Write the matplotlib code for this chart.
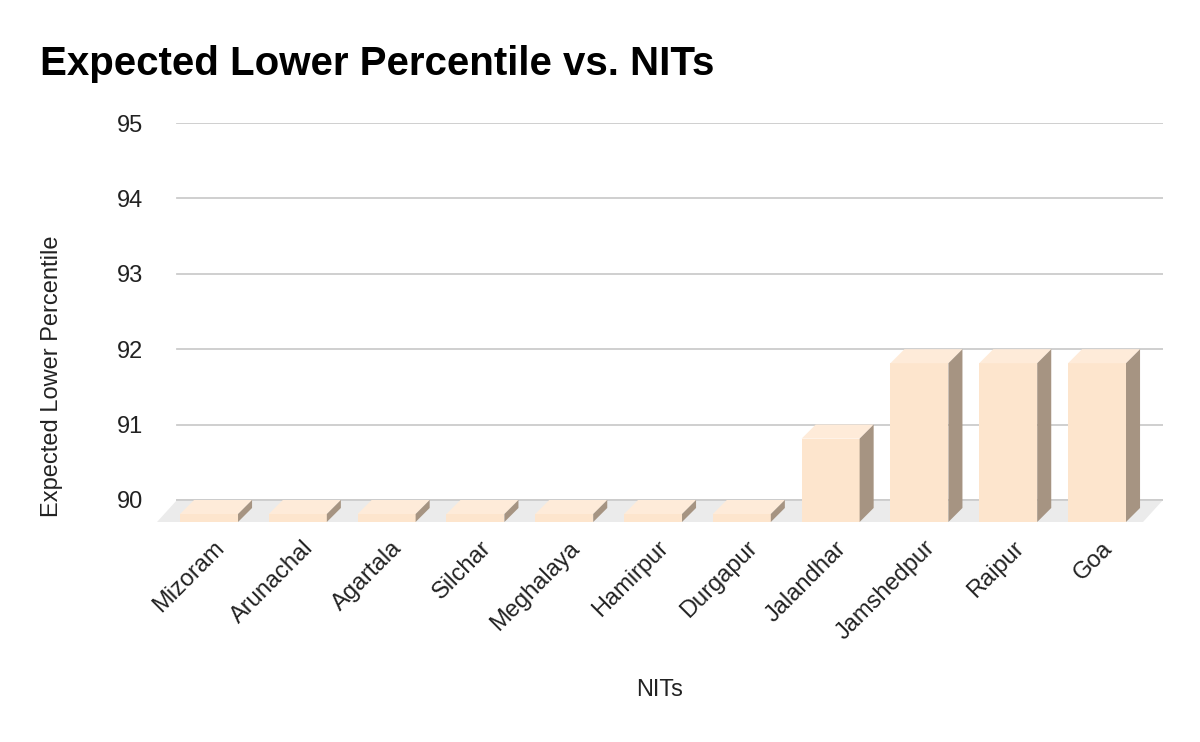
# 3D-style column chart: expected lower percentile per NIT
import matplotlib
matplotlib.use("Agg")
import matplotlib.pyplot as plt
from matplotlib.patches import Polygon

plt.rcParams['font.family'] = ['Liberation Sans', 'DejaVu Sans']

# data
nits = ['Mizoram', 'Arunachal', 'Agartala', 'Silchar', 'Meghalaya', 'Hamirpur',
        'Durgapur', 'Jalandhar', 'Jamshedpur', 'Raipur', 'Goa']
percentile = [90, 90, 90, 90, 90, 90, 90, 91, 92, 92, 92]
y_ticks = [90, 91, 92, 93, 94, 95]

# look of the fake 3d
front_col = '#fde5cd'
top_col = '#feebd9'
side_col = '#a69482'
floor_col = '#ebebeb'
grid_col = '#cccccc'

bar_w = 0.653
dx, dy = 0.158, 0.186          # bar depth
fdx, fdy = 0.225, 0.292        # floor depth
base = 90
x_lo, x_hi = -0.586, 10.743
fs = 17

fig = plt.figure(figsize=(12, 7.42), dpi=100)
ax = fig.add_axes([157 / 1200, 1 - 522 / 742, (1163 - 157) / 1200, (522 - 123) / 742])
ax.set_xlim(x_lo, x_hi)
ax.set_ylim(base - fdy, 95)
for s in ax.spines.values():
    s.set_visible(False)

# back-plane gridlines
for t in y_ticks:
    ax.plot([x_lo + fdx, x_hi], [t, t], color=grid_col, lw=1.3, zorder=1)

# floor
floor = Polygon([(x_lo, base - fdy), (x_hi - fdx, base - fdy), (x_hi, base), (x_lo + fdx, base)],
                closed=True, facecolor=floor_col, edgecolor='none', zorder=2)
ax.add_patch(floor)
ax.plot([x_lo + fdx, x_hi], [base, base], color=grid_col, lw=1.3, zorder=2)

# bars
y_front = base - fdy
for i, v in enumerate(percentile):
    x0 = i - bar_w / 2
    x1 = i + bar_w / 2
    top_front = v - dy
    ax.add_patch(Polygon([(x0, y_front), (x1, y_front), (x1, top_front), (x0, top_front)],
                         closed=True, facecolor=front_col, edgecolor='none', zorder=3))
    ax.add_patch(Polygon([(x0, top_front), (x1, top_front), (x1 + dx, v), (x0 + dx, v)],
                         closed=True, facecolor=top_col, edgecolor='none', zorder=3))
    ax.add_patch(Polygon([(x1, y_front), (x1 + dx, y_front + dy), (x1 + dx, v), (x1, top_front)],
                         closed=True, facecolor=side_col, edgecolor='none', zorder=3))
    ax.text(i + 0.05, base - fdy - 0.2, nits[i], rotation=45, ha='right', va='top',
            rotation_mode='anchor', fontsize=fs, color='#222222', clip_on=False)

ax.set_xticks([])
ax.set_yticks(y_ticks)
ax.set_yticklabels([str(t) for t in y_ticks], fontsize=fs, color='#222222')
ax.tick_params(axis='y', length=0, pad=10)

fig.text(40 / 1200, 1 - 75 / 742, 'Expected Lower Percentile vs. NITs', fontsize=29,
         fontweight='bold', ha='left', va='baseline', color='#000000')
fig.text(52 / 1200, 1 - 376 / 742, 'Expected Lower Percentile', rotation=90,
         fontsize=fs, ha='center', va='center', color='#222222')
fig.text(660 / 1200, 1 - 690 / 742, 'NITs', fontsize=fs, ha='center', va='center', color='#222222')

fig.savefig('out.png', dpi=100)
